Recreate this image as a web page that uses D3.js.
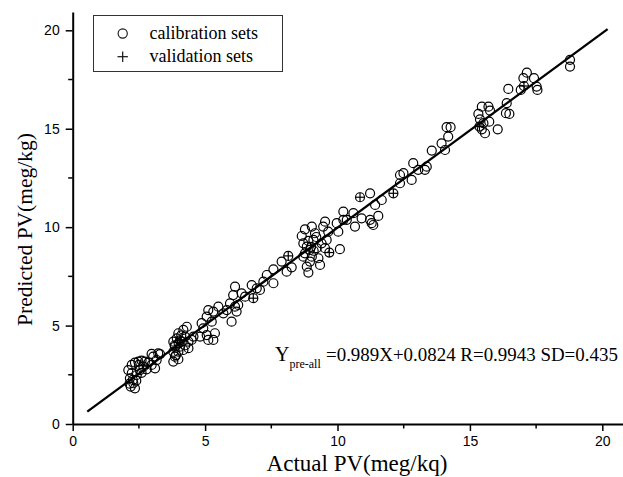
<!DOCTYPE html>
<html>
<head>
<meta charset="utf-8">
<script src="https://cdn.jsdelivr.net/npm/d3@7"></script>
<style>
    body { margin: 0; background: #fff; }
    #scatter { width: 623px; height: 477px; }
</style>
</head>
<body>
<div id="scatter"></div>
<script>
// calibration sets (actual, predicted)
var calActual = [
    2.35, 2.29, 2.16, 2.23, 2.10, 2.23, 2.35, 2.48, 2.60, 2.73, 2.86, 2.67, 2.54, 2.42, 2.79, 2.98, 3.11, 2.98, 3.23, 3.04, 3.17, 2.27, 2.19, 2.40, 2.60, 2.15, 2.50, 3.30,
    3.80, 3.86, 3.80, 3.86, 3.80, 3.93, 3.99, 4.18, 4.31, 4.24, 4.12, 4.05, 3.99, 4.18, 4.37, 4.37, 4.49, 4.56, 3.99, 3.90, 4.10, 3.85, 4.00, 4.25,
    4.81, 5.06, 5.12, 5.31, 5.37, 4.93, 4.87, 5.06, 5.12, 5.31, 5.25, 5.50, 5.69, 5.82, 5.94, 6.00, 6.13, 6.25, 6.19, 6.06, 6.13, 6.38, 6.51, 6.76, 6.95,
    7.07, 7.20, 7.33, 7.58, 7.58, 7.89, 8.08, 8.27, 8.65, 8.77, 8.71, 8.84, 8.77, 8.84, 8.90, 8.96, 9.03, 9.09, 9.15, 9.21, 9.28, 9.34, 9.40, 9.46, 9.53, 9.59, 9.53, 9.65, 9.03, 8.96, 8.71, 9.00, 9.10, 8.90, 9.20,
    9.97, 10.09, 10.03, 10.22, 10.22, 10.35, 10.60, 10.66, 10.91, 11.23, 11.23, 11.35, 11.42, 11.54, 11.67, 11.29, 12.36, 12.80,
    12.36, 12.49, 12.86, 13.05, 13.37, 13.30, 13.56, 13.93, 14.06, 14.12, 14.27, 14.18,
    15.32, 15.38, 15.45, 15.45, 15.57, 15.70, 15.76, 15.73, 15.51, 16.05, 16.39, 16.36, 16.49, 16.45,
    17.02, 17.15, 16.92, 17.42, 17.52, 17.55, 18.78, 18.78
];
var calPredicted = [
    1.81, 2.07, 2.32, 2.58, 2.74, 3.00, 3.12, 3.17, 3.22, 3.17, 3.12, 2.91, 2.74, 2.49, 2.78, 3.00, 2.83, 3.56, 3.59, 3.42, 3.25, 2.24, 1.90, 2.20, 2.60, 2.05, 3.00, 3.55,
    3.17, 3.42, 3.67, 3.93, 4.18, 4.35, 4.61, 4.78, 4.94, 4.44, 4.18, 3.93, 3.67, 3.76, 3.85, 4.18, 4.27, 4.44, 3.29, 3.50, 4.50, 4.00, 4.10, 4.00,
    4.44, 4.52, 4.27, 4.27, 4.61, 4.86, 5.12, 5.45, 5.79, 5.71, 5.20, 5.96, 5.62, 5.79, 6.13, 5.20, 5.96, 6.05, 5.71, 6.55, 6.98, 6.64, 6.47, 7.06, 6.89,
    6.81, 7.23, 7.57, 7.86, 7.15, 8.25, 7.74, 7.96, 9.55, 9.89, 9.18, 9.01, 8.67, 7.99, 7.69, 8.25, 8.50, 9.35, 9.69, 8.93, 8.42, 8.08, 9.18, 10.03, 10.28, 9.35, 8.93, 9.77, 10.03, 8.84, 8.50, 9.00, 8.80, 9.30, 9.50,
    10.20, 8.88, 9.77, 10.79, 10.37, 10.37, 10.71, 10.03, 10.45, 11.72, 10.37, 10.11, 11.13, 10.57, 11.38, 10.20, 12.23, 12.40,
    12.65, 12.74, 13.25, 12.91, 13.07, 12.91, 13.89, 14.26, 13.92, 15.08, 15.08, 14.60,
    15.75, 15.48, 16.12, 14.97, 14.77, 16.12, 15.92, 15.36, 15.28, 14.97, 16.30, 15.79, 15.75, 17.02,
    17.57, 17.85, 16.97, 17.57, 17.14, 16.97, 18.50, 18.16
];

// validation sets (actual, predicted)
var valActual = [4.05, 6.82, 8.14, 9.69, 10.85, 12.11, 15.36, 17.04];
var valPredicted = [4.25, 6.39, 8.54, 8.71, 11.52, 11.72, 15.11, 17.17];

// fitted line end points
var fitActual = [0.55, 20.2];
var fitPredicted = [0.63, 20.06];

var xTicks = [0, 5, 10, 15, 20];
var yTicks = [0, 5, 10, 15, 20];
var xMinorTicks = [2.5, 7.5, 12.5, 17.5];
var yMinorTicks = [2.5, 7.5, 12.5, 17.5];

var legendLabels = ["calibration sets", "validation sets"];

var width = 623, height = 477;
var svg = d3.select("#scatter")
    .append("svg")
    .attr("width", width)
    .attr("height", height)
    .style("font-family", "'Liberation Serif', 'Times New Roman', serif");

var x = d3.scaleLinear()
    .domain([0, 20.8])
    .range([72.7, 623.5]);

var y = d3.scaleLinear()
    .domain([0, 20.93])
    .range([424, 12]);

// x axis
var xAxis = svg.append("g")
    .attr("transform", "translate(0,424)")
    .call(d3.axisBottom(x).tickValues(xTicks).tickFormat(d3.format("d")).tickSize(7).tickSizeOuter(0).tickPadding(5));
xAxis.append("g").selectAll("line")
    .data(xMinorTicks)
    .enter()
    .append("line")
    .attr("x1", function (d) { return x(d); })
    .attr("x2", function (d) { return x(d); })
    .attr("y1", 0)
    .attr("y2", 4.5)
    .attr("stroke", "#000")
    .attr("stroke-width", 1.5);

// y axis
var yAxis = svg.append("g")
    .attr("transform", "translate(72.7,0)")
    .call(d3.axisLeft(y).tickValues(yTicks).tickFormat(d3.format("d")).tickSize(7).tickSizeOuter(0).tickPadding(6));
yAxis.append("g").selectAll("line")
    .data(yMinorTicks)
    .enter()
    .append("line")
    .attr("y1", function (d) { return y(d); })
    .attr("y2", function (d) { return y(d); })
    .attr("x1", 0)
    .attr("x2", -4.5)
    .attr("stroke", "#000")
    .attr("stroke-width", 1.5);

svg.selectAll(".domain").attr("stroke", "#000").attr("stroke-width", 2);
svg.selectAll(".tick line").attr("stroke", "#000").attr("stroke-width", 1.5);
svg.selectAll(".tick text")
    .style("font-family", "'Liberation Sans', Arial, sans-serif")
    .style("font-size", "14px")
    .attr("fill", "#000");

// axis titles
svg.append("text")
    .attr("x", 357)
    .attr("y", 471)
    .style("text-anchor", "middle")
    .style("font-size", "23px")
    .text("Actual PV(meg/kq)");

svg.append("text")
    .attr("transform", "rotate(-90)")
    .attr("x", -229.5)
    .attr("y", 32)
    .style("text-anchor", "middle")
    .style("font-size", "21.5px")
    .text("Predicted PV(meg/kg)");

// calibration circles
var calData = calActual.map(function (d, i) { return { a: d, p: calPredicted[i] }; });
var valData = valActual.map(function (d, i) { return { a: d, p: valPredicted[i] }; });

svg.append("g")
    .selectAll("circle")
    .data(calData.concat(valData))
    .enter()
    .append("circle")
    .attr("cx", function (d) { return x(d.a); })
    .attr("cy", function (d) { return y(d.p); })
    .attr("r", 4.5)
    .attr("fill", "none")
    .attr("stroke", "#000")
    .attr("stroke-width", 1.2);

// validation plus marks
var plus = svg.append("g")
    .selectAll("g")
    .data(valData)
    .enter()
    .append("g")
    .attr("transform", function (d) { return "translate(" + x(d.a) + "," + y(d.p) + ")"; });
plus.append("line").attr("x1", -4.5).attr("x2", 4.5).attr("stroke", "#000").attr("stroke-width", 1.2);
plus.append("line").attr("y1", -4.5).attr("y2", 4.5).attr("stroke", "#000").attr("stroke-width", 1.2);

// fit line
svg.append("line")
    .attr("x1", x(fitActual[0]))
    .attr("y1", y(fitPredicted[0]))
    .attr("x2", x(fitActual[1]))
    .attr("y2", y(fitPredicted[1]))
    .attr("stroke", "#000")
    .attr("stroke-width", 2.3);

// legend
svg.append("rect")
    .attr("x", 93.5)
    .attr("y", 15.5)
    .attr("width", 189)
    .attr("height", 56)
    .attr("fill", "#fff")
    .attr("stroke", "#333")
    .attr("stroke-width", 1);

svg.append("circle")
    .attr("cx", 122.7)
    .attr("cy", 33.5)
    .attr("r", 4.6)
    .attr("fill", "none")
    .attr("stroke", "#111")
    .attr("stroke-width", 1.1);
svg.append("line").attr("x1", 117.5).attr("x2", 127.9).attr("y1", 56.7).attr("y2", 56.7).attr("stroke", "#111").attr("stroke-width", 1.2);
svg.append("line").attr("x1", 122.7).attr("x2", 122.7).attr("y1", 51.5).attr("y2", 61.9).attr("stroke", "#111").attr("stroke-width", 1.2);

svg.append("g")
    .selectAll("text")
    .data(legendLabels)
    .enter()
    .append("text")
    .attr("x", 149.5)
    .attr("y", function (d, i) { return 38.5 + i * 23.3; })
    .style("font-size", "18px")
    .text(function (d) { return d; });

// equation: Y with subscript, then the fit numbers
var eq = svg.append("text")
    .attr("x", 275)
    .attr("y", 361)
    .style("font-size", "20px");
eq.append("tspan").text("Y");
eq.append("tspan").attr("dy", 7).style("font-size", "12px").text("pre-all");

var eqNums = svg.append("text")
    .attr("x", 326)
    .attr("y", 361)
    .style("font-size", "20px")
    .text("=0.989X+0.0824 R=0.9943 SD=0.435");
// shrink the font so the numbers end just inside the right edge
var eqLen = eqNums.node().getComputedTextLength();
var eqSize = Math.min(20, 20 * 292 / eqLen);
eqNums.style("font-size", eqSize + "px");
</script>
</body>
</html>
